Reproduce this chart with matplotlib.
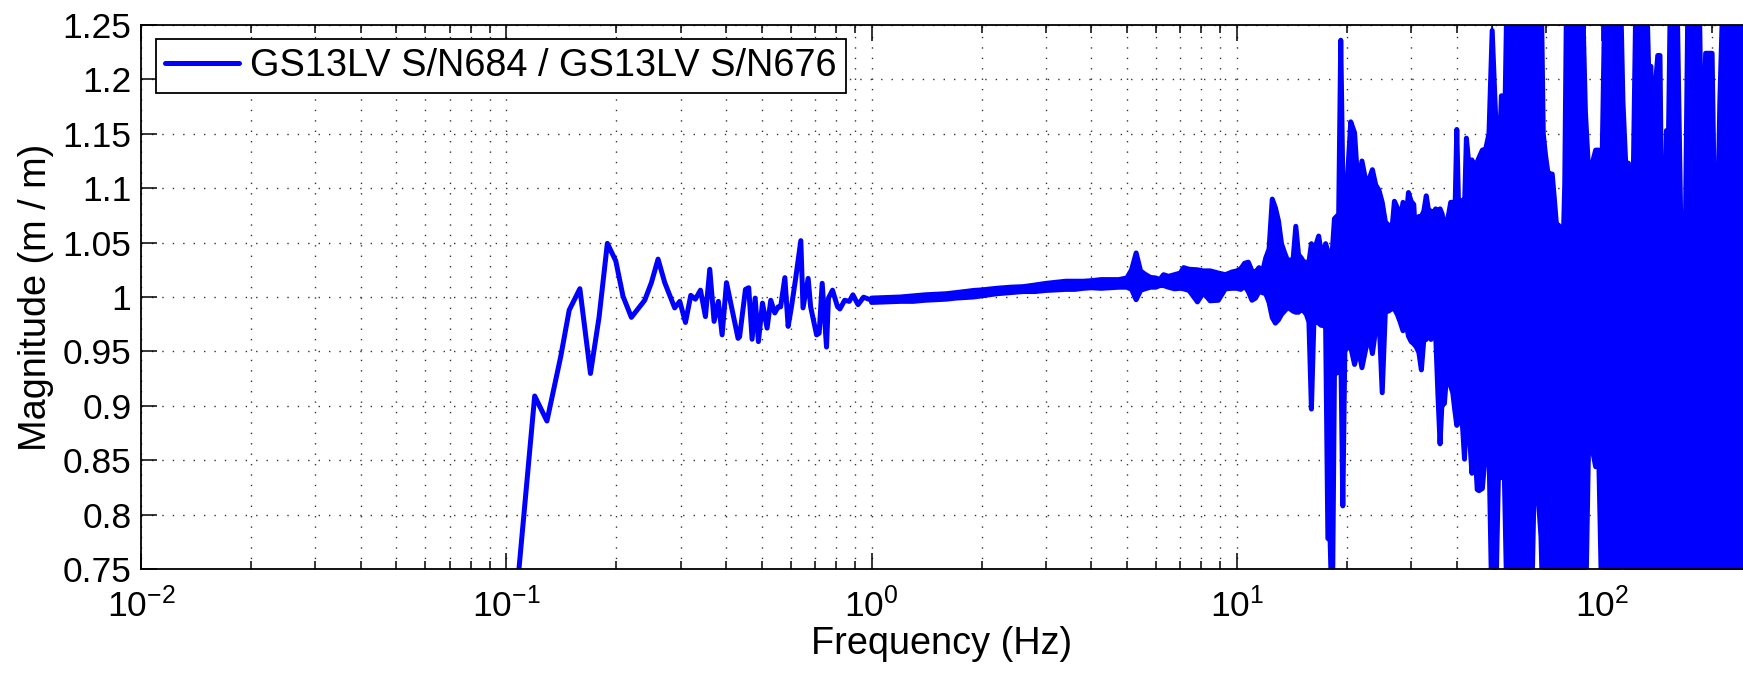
import matplotlib
matplotlib.use('Agg')
import matplotlib.pyplot as plt
from matplotlib.ticker import FixedLocator, FixedFormatter, LogLocator, NullFormatter

plt.rcParams['font.family'] = ['Liberation Sans', 'DejaVu Sans']
plt.rcParams['mathtext.fontset'] = 'custom'
plt.rcParams['mathtext.rm'] = 'Liberation Sans'
plt.rcParams['mathtext.it'] = 'Liberation Sans:italic'
plt.rcParams['mathtext.bf'] = 'Liberation Sans:bold'

# ---------------- data ----------------
legend_label = 'GS13LV S/N684 / GS13LV S/N676'
x_label = 'Frequency (Hz)'
y_label = 'Magnitude (m / m)'
ytick_values = [0.75, 0.8, 0.85, 0.9, 0.95, 1.0, 1.05, 1.1, 1.15, 1.2, 1.25]
ytick_labels = ['0.75', '0.8', '0.85', '0.9', '0.95', '1', '1.05', '1.1', '1.15', '1.2', '1.25']
x_limits = [0.01, 243]
y_limits = [0.75, 1.25]

# low-frequency part (individual points)
freq_low = [0.1050, 0.1196, 0.1292, 0.1409, 0.1487, 0.1590, 0.1700, 0.1794, 0.1891, 0.1994,
            0.2087, 0.2200, 0.2393, 0.2496, 0.2603, 0.2715, 0.2891, 0.2985, 0.3094, 0.3199,
            0.3293, 0.3401, 0.3509, 0.3606, 0.3706, 0.3807, 0.3898, 0.4007, 0.4310, 0.4352,
            0.4516, 0.4610, 0.4709, 0.4800, 0.4900, 0.5027, 0.5176, 0.5297, 0.5433, 0.5550,
            0.5637, 0.5789, 0.5910, 0.6029, 0.6192, 0.6402, 0.6491, 0.6705, 0.6810, 0.7071,
            0.7187, 0.7325, 0.7528, 0.7620, 0.7818, 0.8060, 0.8190, 0.8440, 0.8690, 0.8890,
            0.9180, 0.9510, 1.0000]
mag_low = [0.700, 0.909, 0.886, 0.945, 0.988, 1.0076, 0.9297, 0.981, 1.0493, 1.0332,
           1.0007, 0.9813, 0.997, 1.0132, 1.0348, 1.0132, 0.990, 0.996, 0.9766, 1.0015,
           0.998, 1.0063, 0.982, 1.0255, 0.9776, 0.996, 0.9652, 1.0132, 0.962, 0.9635,
           1.007, 1.0085, 0.9612, 0.999, 0.959, 0.9944, 0.9714, 0.997, 0.9853, 0.991,
           0.991, 1.0178, 0.973, 0.990, 1.0162, 1.0518, 0.990, 1.0171, 0.991, 0.9652,
           0.9667, 1.0126, 0.954, 0.999, 1.0063, 0.9915, 0.989, 0.997, 0.996, 1.002,
           0.993, 0.9998, 0.997]

# 1 - 10 Hz: dense data, upper / lower envelope
freq_mid = [1.0, 1.1, 1.2, 1.3, 1.4, 1.5, 1.6, 1.7, 1.8, 1.9,
            2.0, 2.2, 2.4, 2.6, 2.8, 3.0, 3.2, 3.4, 3.6, 3.8,
            4.0, 4.25, 4.5, 4.75, 5.0, 5.15, 5.3, 5.45, 5.6, 5.8,
            6.0, 6.15, 6.3, 6.5, 6.75, 7.0, 7.15, 7.4, 7.8, 8.1,
            8.45, 8.9, 9.3, 9.7]
upper_mid = [0.999, 0.9995, 1.000, 1.001, 1.002, 1.0025, 1.003, 1.004, 1.005, 1.006,
             1.0065, 1.008, 1.009, 1.0095, 1.011, 1.0125, 1.0135, 1.0145, 1.0145, 1.0145,
             1.015, 1.016, 1.016, 1.016, 1.0175, 1.025, 1.0405, 1.024, 1.021, 1.018,
             1.0175, 1.016, 1.0205, 1.019, 1.0205, 1.022, 1.027, 1.0255, 1.025, 1.024,
             1.024, 1.022, 1.0205, 1.023]
lower_mid = [0.995, 0.9955, 0.996, 0.996, 0.997, 0.9975, 0.998, 0.999, 0.9995, 1.000,
             1.001, 1.003, 1.004, 1.005, 1.005, 1.006, 1.0065, 1.007, 1.007, 1.008,
             1.0085, 1.008, 1.0085, 1.009, 1.009, 1.007, 0.9975, 1.006, 1.0075, 1.009,
             1.009, 1.0105, 1.0105, 1.009, 1.0075, 1.008, 1.0075, 1.006, 0.9955, 1.004,
             0.9965, 0.997, 1.0075, 1.008]

# 10 - 46 Hz
freq_hi = [10.0, 10.25, 10.5, 10.75, 11.0, 11.25, 11.5, 11.75, 12.0, 12.25,
           12.5, 12.75, 13.0, 13.25, 13.5, 13.75, 14.0, 14.25, 14.5, 14.75,
           15.0, 15.25, 15.5, 15.75, 16.0, 16.25, 16.5, 16.75, 17.0, 17.25,
           17.5, 17.75, 18.0, 18.25, 18.5, 18.75, 19.0, 19.25, 19.5, 19.75,
           20.0, 20.5, 21.0, 21.5, 22.0, 22.5, 23.0, 23.5, 24.0, 24.5,
           25.0, 25.5, 26.0, 26.5, 27.0, 27.5, 28.0, 28.5, 29.0, 29.5,
           30.0, 30.5, 31.0, 31.5, 32.0, 32.5, 33.0, 33.5, 34.0, 34.5,
           35.0, 35.5, 36.0, 36.5, 37.0, 37.5, 38.0, 38.5, 39.0, 39.5,
           40.0, 40.5, 41.0, 41.5, 42.0, 42.5, 43.0, 43.5, 44.0, 44.5,
           45.0, 45.5, 46.0]
upper_hi = [1.024, 1.026, 1.031, 1.032, 1.024, 1.023, 1.027, 1.023, 1.036, 1.044,
            1.090, 1.082, 1.070, 1.049, 1.041, 1.034, 1.034, 1.034, 1.065, 1.039,
            1.036, 1.032, 1.032, 1.032, 1.049, 1.042, 1.049, 1.056, 1.042, 1.042,
            1.049, 1.042, 1.039, 1.042, 1.072, 1.074, 1.076, 1.236, 1.107, 1.105,
            1.099, 1.161, 1.151, 1.098, 1.125, 1.108, 1.108, 1.117, 1.103, 1.098,
            1.087, 1.069, 1.066, 1.057, 1.088, 1.082, 1.069, 1.087, 1.069, 1.096,
            1.088, 1.085, 1.042, 1.074, 1.074, 1.079, 1.093, 1.079, 1.079, 1.077,
            1.081, 1.079, 1.081, 1.076, 1.057, 1.069, 1.076, 1.087, 1.087, 1.069,
            1.154, 1.076, 1.072, 1.089, 1.082, 1.146, 1.128, 1.105, 1.126, 1.122,
            1.113, 1.124, 1.128]
lower_hi = [1.008, 1.007, 1.010, 1.005, 0.997, 0.999, 1.005, 1.004, 1.003, 0.995,
            0.981, 0.976, 0.979, 0.984, 0.987, 0.990, 0.989, 0.987, 0.986, 0.986,
            0.989, 0.987, 0.984, 0.977, 0.897, 0.977, 0.977, 0.976, 0.974, 0.974,
            0.972, 0.778, 0.777, 0.700, 0.930, 0.930, 0.952, 0.956, 0.808, 0.950,
            0.953, 0.954, 0.938, 0.953, 0.935, 0.951, 0.966, 0.948, 0.971, 0.981,
            0.912, 0.987, 0.987, 0.989, 0.989, 0.984, 0.977, 0.969, 0.977, 0.964,
            0.959, 0.957, 0.954, 0.949, 0.933, 0.961, 0.961, 0.967, 0.961, 0.971,
            0.967, 0.912, 0.865, 0.908, 0.902, 0.928, 0.932, 0.918, 0.912, 0.896,
            0.882, 0.896, 0.887, 0.880, 0.851, 0.896, 0.880, 0.864, 0.838, 0.869,
            0.853, 0.823, 0.822]

# 47 - 245 Hz (values beyond the axis limits are clipped by the axes)
freq_top = [47, 48, 49, 50, 51, 52, 53, 54, 55, 56,
            57, 58, 59, 60, 61, 62, 63, 64, 65, 66,
            67, 68, 69, 70, 71, 72, 73, 74, 75, 76,
            77, 78, 79, 80, 82, 84, 86, 88, 90, 92,
            94, 96, 98, 100, 102, 104, 106, 108, 110, 112,
            114, 116, 118, 120, 122, 124, 126, 128, 130, 132,
            134, 136, 138, 140, 142, 144, 146, 148, 150, 152,
            154, 156, 158, 160, 164, 168, 172, 176, 180, 184,
            188, 192, 196, 200, 205, 210, 215, 220, 225, 230,
            235, 240, 245]
upper_top = [1.135, 1.136, 1.150, 1.245, 1.173, 1.110, 1.185, 1.140, 1.30, 1.30,
             1.30, 1.30, 1.30, 1.30, 1.30, 1.30, 1.30, 1.30, 1.30, 1.30,
             1.30, 1.30, 1.150, 1.130, 1.115, 1.113, 1.113, 1.090, 1.066, 1.066,
             1.062, 1.031, 1.104, 1.30, 1.30, 1.30, 1.30, 1.30, 1.170, 1.110,
             1.123, 1.135, 1.135, 1.127, 1.30, 1.30, 1.30, 1.30, 1.30, 1.30,
             1.180, 1.123, 1.123, 0.970, 1.138, 1.30, 1.30, 1.30, 1.30, 1.30,
             1.212, 1.212, 1.060, 1.196, 1.222, 1.222, 1.025, 1.040, 1.153, 1.153,
             1.30, 1.30, 1.30, 1.30, 1.076, 0.980, 1.30, 1.30, 1.30, 1.30,
             1.094, 1.224, 1.224, 1.224, 0.985, 1.180, 1.30, 1.30, 1.30, 1.30,
             1.30, 1.30, 1.30]
lower_top = [0.824, 0.860, 0.860, 0.700, 0.700, 0.834, 0.834, 0.834, 0.700, 0.700,
             0.700, 0.700, 0.700, 0.700, 0.700, 0.700, 0.700, 0.700, 0.811, 0.811,
             0.811, 0.780, 0.700, 0.700, 0.700, 0.700, 0.700, 0.700, 0.700, 0.700,
             0.700, 0.700, 0.700, 0.700, 0.700, 0.700, 0.700, 0.700, 0.700, 0.883,
             0.860, 0.844, 0.845, 0.700, 0.700, 0.700, 0.700, 0.700, 0.700, 0.700,
             0.770, 0.700, 0.700, 0.700, 0.700, 0.700, 0.700, 0.700, 0.700, 0.700,
             0.700, 0.700, 0.700, 0.700, 0.700, 0.700, 0.700, 0.700, 0.700, 0.700,
             0.700, 0.700, 0.700, 0.700, 0.700, 0.700, 0.700, 0.700, 0.700, 0.700,
             0.700, 0.700, 0.700, 0.700, 0.700, 0.700, 0.700, 0.700, 0.700, 0.700,
             0.700, 0.700, 0.700]

# ---------------- figure ----------------
W, H = 1743, 678
fig = plt.figure(figsize=(W / 100, H / 100), dpi=100)
ax_left, ax_right, ax_top, ax_bottom = 141, 1743, 25, 569
ax = fig.add_axes([ax_left / W, (H - ax_bottom) / H, (ax_right - ax_left) / W, (ax_bottom - ax_top) / H])
ax.set_xscale('log')

blue = (0, 0, 1)
lw = 3.6

band_f = freq_mid + freq_hi + freq_top
band_up = upper_mid + upper_hi + upper_top
band_lo = lower_mid + lower_hi + lower_top

ax.fill_between(band_f, band_lo, band_up, color=blue, lw=0, zorder=3)
ax.plot(band_f, band_up, color=blue, lw=lw, solid_joinstyle='round', solid_capstyle='round', zorder=3)
ax.plot(band_f, band_lo, color=blue, lw=lw, solid_joinstyle='round', solid_capstyle='round', zorder=3)
ax.plot(freq_low, mag_low, color=blue, lw=lw, solid_joinstyle='round', solid_capstyle='round',
        zorder=3, label=legend_label)

ax.set_xlim(*x_limits)
ax.set_ylim(*y_limits)

ax.yaxis.set_major_locator(FixedLocator(ytick_values))
ax.yaxis.set_major_formatter(FixedFormatter(ytick_labels))
ax.xaxis.set_major_locator(LogLocator(base=10, numticks=20))
ax.xaxis.set_minor_locator(LogLocator(base=10, subs=[2, 3, 4, 5, 6, 7, 8, 9], numticks=20))
ax.xaxis.set_minor_formatter(NullFormatter())

grid_kw = dict(color='0.2', lw=1.0, linestyle=(0, (1, 6.5)))
ax.grid(True, which='major', axis='both', **grid_kw)
ax.grid(True, which='minor', axis='x', **grid_kw)
ax.set_axisbelow(True)

ax.tick_params(axis='both', which='major', direction='in', length=11.5, width=1.1,
               labelsize=25.5, top=True, right=False, colors='k')
ax.tick_params(axis='x', which='major', pad=13)
ax.tick_params(axis='y', which='major', pad=7)
ax.tick_params(axis='x', which='minor', direction='in', length=5.8, width=1.1, top=True)
ax.tick_params(axis='y', which='minor', left=False, right=False)

for s in ['left', 'top', 'bottom']:
    ax.spines[s].set_linewidth(1.3)
    ax.spines[s].set_zorder(5)
ax.spines['right'].set_visible(False)

ax.set_xlabel(x_label, fontsize=27.3, labelpad=2)
ax.set_ylabel(y_label, fontsize=27.3, labelpad=6)

leg = ax.legend(loc='upper left', bbox_to_anchor=(15 / 1602, 1 - 14 / 544), borderaxespad=0,
                fancybox=False, edgecolor='k', framealpha=1, fontsize=27.3,
                handlelength=1.95, handletextpad=0.3, borderpad=0.24)
leg.get_frame().set_linewidth(1.3)
leg.set_zorder(10)

fig.savefig('out.png', dpi=100)
